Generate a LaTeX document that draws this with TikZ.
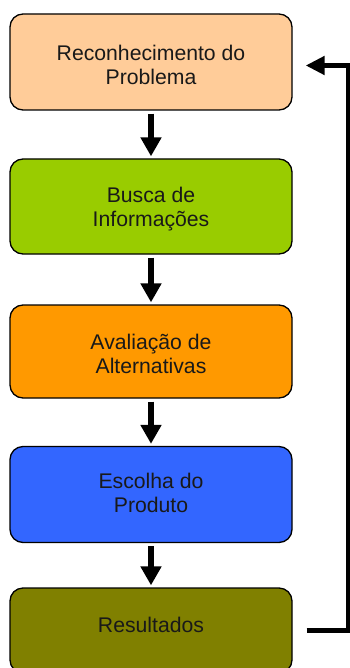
\documentclass[tikz,border=0pt]{standalone}
\usepackage{fontspec}
\setmainfont{Liberation Sans}
\usetikzlibrary{arrows.meta}
\definecolor{cA}{HTML}{FFCC99}
\definecolor{cB}{HTML}{99CC00}
\definecolor{cC}{HTML}{FF9900}
\definecolor{cD}{HTML}{3366FF}
\definecolor{cE}{HTML}{808000}
\begin{document}
\begin{tikzpicture}[x=1pt,y=-1pt,
  stagebox/.style={draw=black,line width=1.3pt,rounded corners=13pt,
    minimum width=282pt,inner sep=0pt},
  stagetext/.style={inner sep=0pt,align=center,
    font=\fontsize{21.2}{24}\selectfont,text=black!90},
  flowarrow/.style={line width=6pt,-{Triangle[width=20pt,length=19pt]},
    shorten <=3pt,shorten >=2pt},
  fbline/.style={line width=5pt,-{Triangle[width=18pt,length=19pt]},line join=miter}]
\useasboundingbox (0,0) rectangle (350,668);
\clip (0,0) rectangle (350,668);
\node[stagebox,fill=cA,minimum height=96pt] (b1) at (151,62) {};
\node[stagebox,fill=cB,minimum height=95pt] (b2) at (151,206.5) {};
\node[stagebox,fill=cC,minimum height=93pt] (b3) at (151,351.5) {};
\node[stagebox,fill=cD,minimum height=96pt] (b4) at (151,494.5) {};
\node[stagebox,fill=cE,minimum height=85pt] (b5) at (151,630.5) {};
\node[stagetext] (t1) at ([yshift=-2.5pt]b1.center) {Reconhecimento do\\Problema};
\node[stagetext] (t2) at ([yshift=-2.5pt]b2.center) {Busca de\\Informações};
\node[stagetext] (t3) at ([yshift=-2.5pt]b3.center) {Avaliação de\\Alternativas};
\node[stagetext] (t4) at ([yshift=1.5pt]b4.center) {Escolha do\\Produto};
\node[stagetext] (t5) at ([yshift=6pt]b5.center) {Resultados};
\draw[flowarrow] (b1.south) -- (b2.north);
\draw[flowarrow] (b2.south) -- (b3.north);
\draw[flowarrow] (b3.south) -- (b4.north);
\draw[flowarrow] (b4.south) -- (b5.north);
\coordinate (fbA) at (348,630.5);
\coordinate (fbB) at (348,65.5);
\draw[fbline] ([xshift=14pt]b5.east) -- (fbA) -- (fbB) -- ([xshift=13pt]b1.east |- fbB);
\end{tikzpicture}
\end{document}
